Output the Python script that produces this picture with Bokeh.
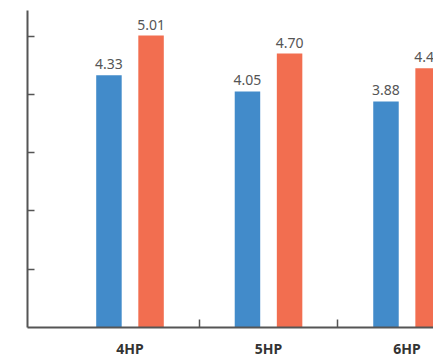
from bokeh.plotting import figure
from bokeh.models import ColumnDataSource, FixedTicker, Range1d
from bokeh.core.properties import value
from bokeh.embed import file_html
from bokeh.resources import INLINE

categories = ["4HP", "5HP", "6HP"]
series_a = [4.33, 4.05, 3.88]
series_b = [5.01, 4.70, 4.45]
y_ticks = [1, 2, 3, 4, 5]

blue = "#428bca"
orange = "#f26e50"

xc = list(range(len(categories)))
off = 0.152
bw = 0.184

src_a = ColumnDataSource(dict(x=[c - off for c in xc], top=series_a,
                              lbl=["%.2f" % v for v in series_a]))
src_b = ColumnDataSource(dict(x=[c + off for c in xc], top=series_b,
                              lbl=["%.2f" % v for v in series_b]))

p = figure(width=433, height=360, output_backend="svg", toolbar_location=None,
           x_range=Range1d(-0.740, 2.191), y_range=Range1d(0, 5.44),
           min_border_left=27, min_border_top=10, min_border_right=0,
           min_border_bottom=33)
p.outline_line_color = None
p.grid.visible = False
p.background_fill_color = "white"
p.border_fill_color = "white"

p.vbar(x="x", top="top", width=bw, bottom=0, source=src_a, color=blue, line_color=None)
p.vbar(x="x", top="top", width=bw, bottom=0, source=src_b, color=orange, line_color=None)

for src in (src_a, src_b):
    p.text(x="x", y="top", text="lbl", source=src, text_align="center",
           text_baseline="bottom", y_offset=-6, text_color="#555555",
           text_font=value("Noto Sans"), text_font_size="14px")

# x axis: labels at category centers, boundary ticks via minor ticks
xa = p.xaxis[0]
xa.ticker = FixedTicker(ticks=xc, minor_ticks=[c + 0.5 for c in xc[:-1]])
xa.major_label_overrides = {i: c for i, c in enumerate(categories)}
xa.major_tick_in = 0
xa.major_tick_out = 0
xa.minor_tick_in = 8
xa.minor_tick_out = 0
xa.minor_tick_line_color = "#555555"
xa.minor_tick_line_width = 1.5
xa.axis_line_color = "#555555"
xa.axis_line_width = 2
xa.major_label_text_font = "Noto Sans"
xa.major_label_text_font_style = "bold"
xa.major_label_text_font_size = "14px"
xa.major_label_text_color = "#333333"
xa.major_label_standoff = 11

ya = p.yaxis[0]
ya.ticker = FixedTicker(ticks=y_ticks, minor_ticks=[])
ya.major_label_overrides = {t: "" for t in y_ticks}
ya.major_tick_in = 7
ya.major_tick_out = 0
ya.major_tick_line_color = "#555555"
ya.major_tick_line_width = 1.5
ya.axis_line_color = "#555555"
ya.axis_line_width = 2
ya.major_label_standoff = 0
ya.major_label_text_font_size = "1px"

open("out.html", "w").write(file_html(p, INLINE))
